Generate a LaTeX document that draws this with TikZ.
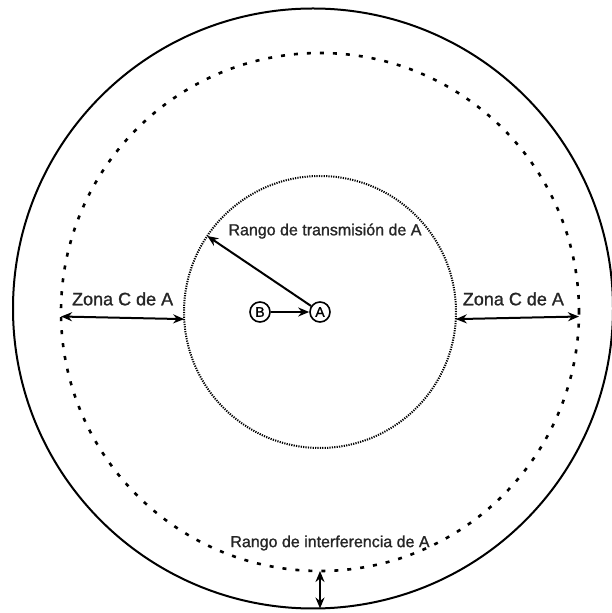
\documentclass[tikz,border=0pt]{standalone}
\usepackage{fontspec}
\setmainfont{Liberation Sans}
\newfontfamily\heavyfont[FakeBold=1.2]{Liberation Sans}
\usepackage{tikz}
\usetikzlibrary{arrows.meta, positioning, calc}

\tikzset{
  ring/.style={circle, inner sep=0pt, outer sep=0pt},
  station/.style={circle, draw, line width=1.6pt, inner sep=0pt, minimum size=20pt,
    font=\heavyfont\fontsize{14}{16}\selectfont},
  arr/.style={line width=2pt, -{Stealth[length=11pt, width=9pt]}},
  darr/.style={line width=2pt, {Stealth[length=11pt, width=9pt]}-{Stealth[length=11pt, width=9pt]}},
  lbl/.style={text=black!85, font=\heavyfont\fontsize{16}{19}\selectfont},
  zlbl/.style={text=black!85, font=\heavyfont\fontsize{18}{21}\selectfont}
}

\begin{document}
\begin{tikzpicture}[x=1pt, y=1pt, >=Stealth]
  \useasboundingbox (0,0) rectangle (612,613);
  % Circles
  \coordinate (ctr) at (320,301);
  \node[ring, draw, line width=2pt, minimum size=600pt] (outer) at (313,304.5) {};
  \node[ring, draw, line width=2.6pt, dash pattern=on 4pt off 9pt, minimum size=518pt] (irange) at (ctr) {};
  \node[ring, draw, line width=2pt, dash pattern=on 1.2pt off 1.2pt, minimum size=272pt] (trange) at (ctr) {};
  % Stations
  \node[station] (A) at (ctr) {A};
  \node[station] (B) at (260,301) {B};
  \draw[arr] (B) -- (A);
  \draw[arr] (A) -- (trange.146);
  \node[lbl, below=44pt of trange.north, xshift=5pt] (tlabel) {Rango de transmisión de A};
  % Zona C
  \draw[darr] (irange.181.5) -- node[zlbl, above=8pt] (zleft) {Zona C de A} (trange.183);
  \draw[darr] (trange.-3) -- node[zlbl, above=8pt, xshift=-4pt] (zright) {Zona C de A} (irange.-1.5);
  % Interference range
  \coordinate (bot) at (irange.south |- outer.south);
  \draw[darr] (irange.south) -- (bot);
  \node[lbl, above=17pt of irange.south, xshift=10pt] (ilabel) {Rango de interferencia de A};
\end{tikzpicture}
\end{document}
